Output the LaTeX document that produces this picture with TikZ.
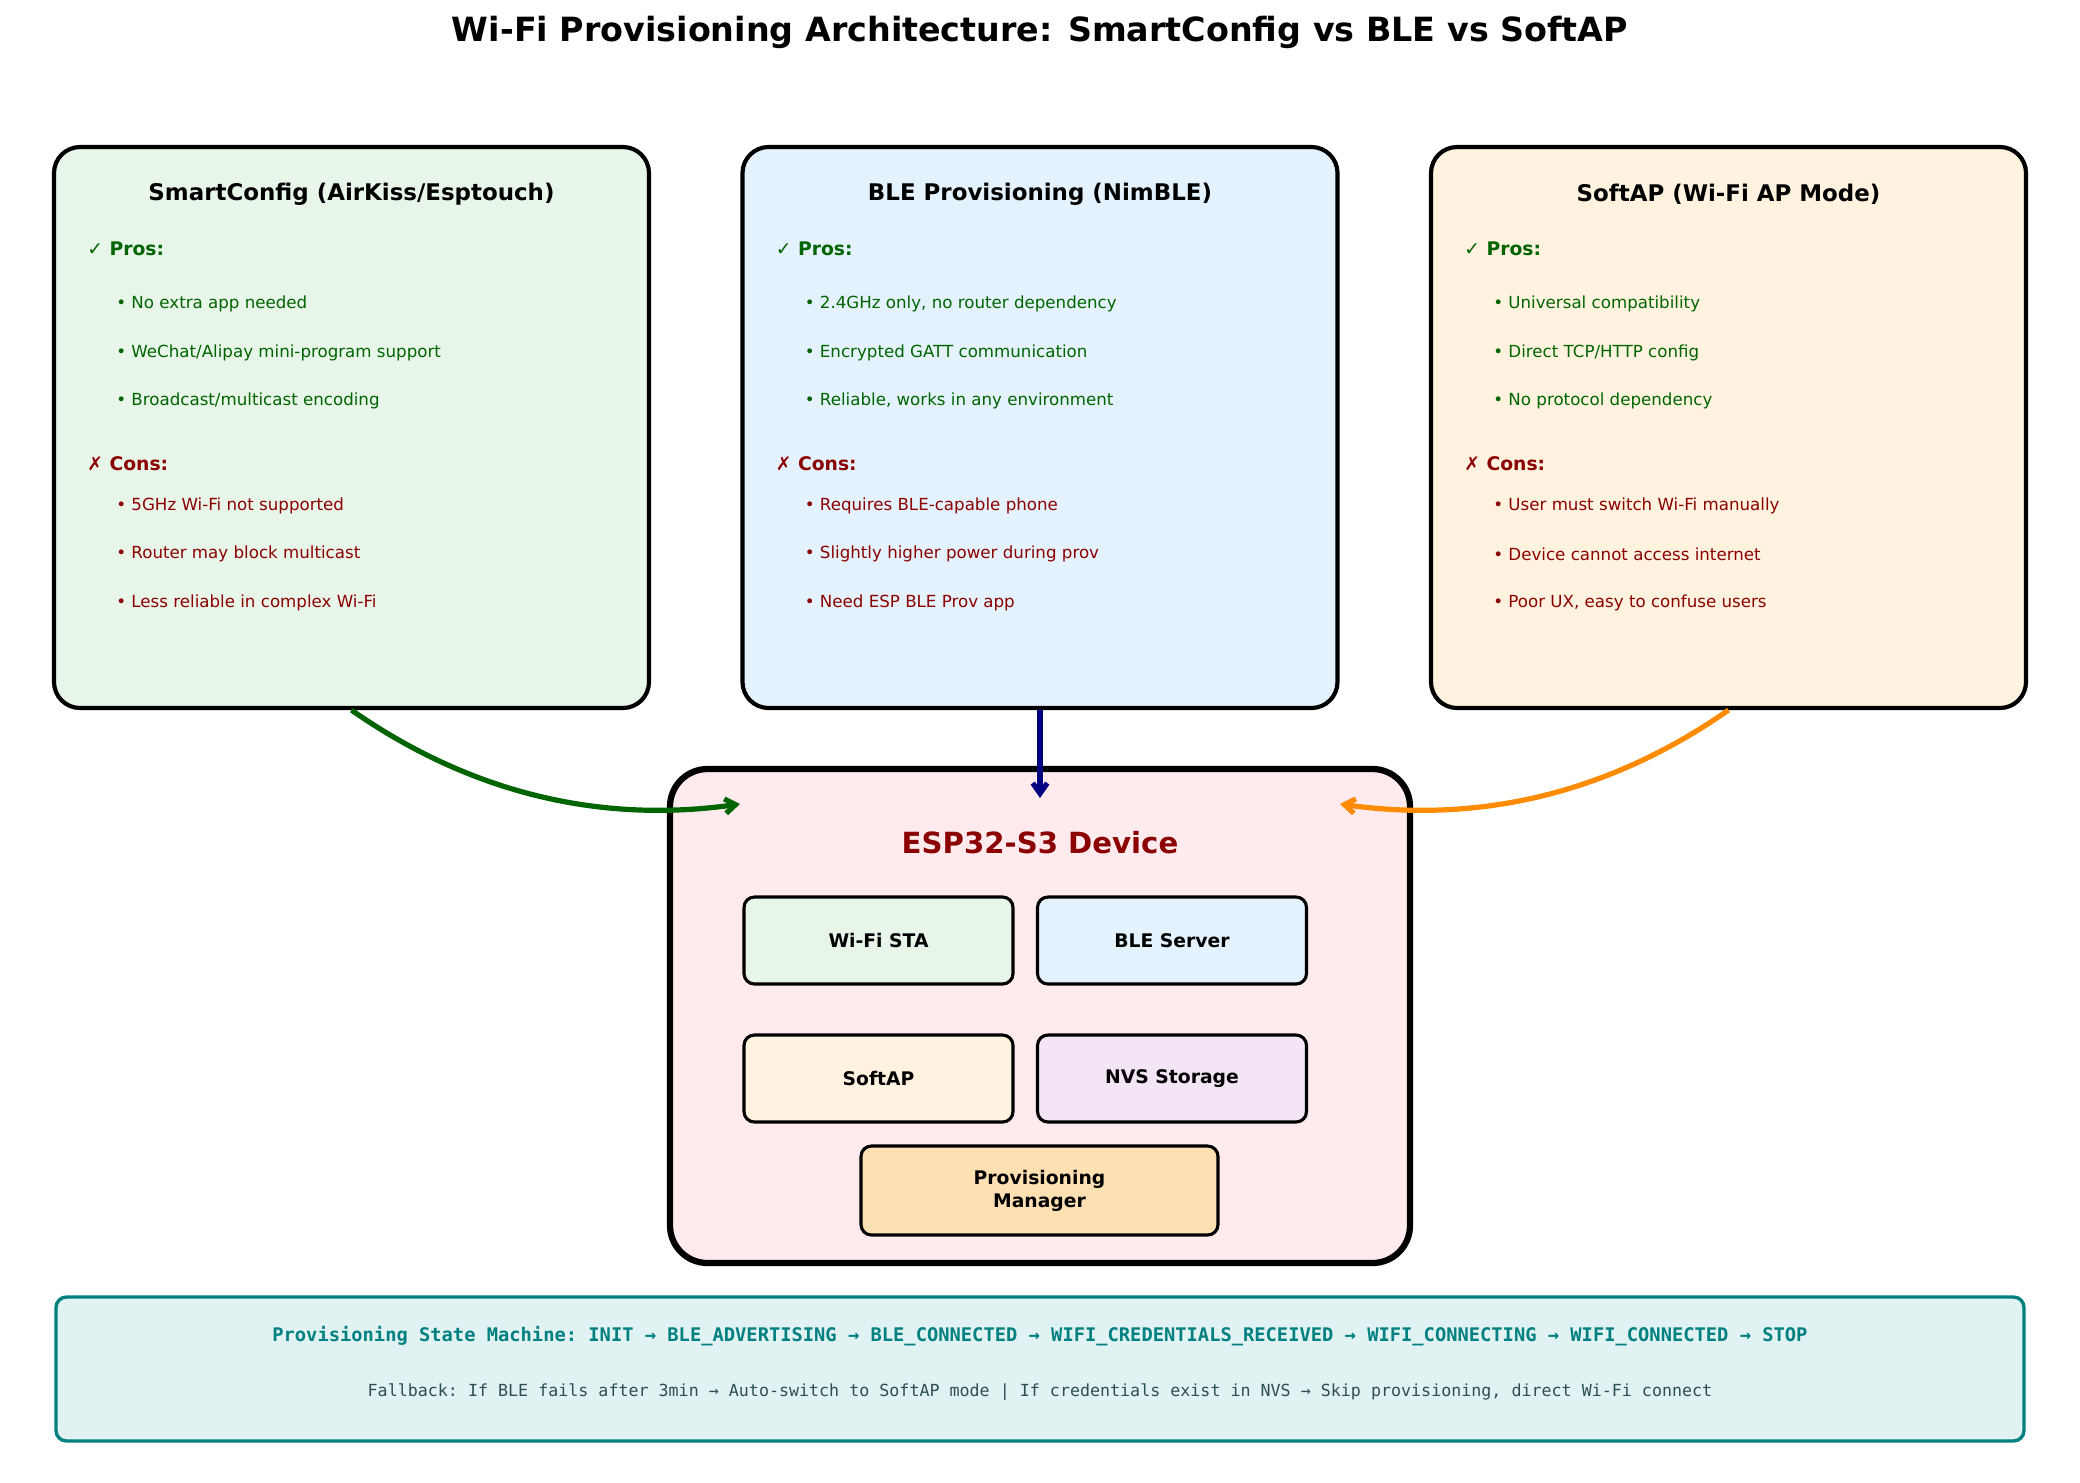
\documentclass[tikz,border=0pt]{standalone}
\usepackage{fontspec}
\setmainfont{DejaVu Sans}
\setmonofont{DejaVu Sans Mono}
\usetikzlibrary{arrows.meta,positioning,calc}
\definecolor{smartfill}{HTML}{E8F5E9}
\definecolor{blefill}{HTML}{E3F2FD}
\definecolor{apfill}{HTML}{FFF3E0}
\definecolor{devfill}{HTML}{FFEBEE}
\definecolor{nvsfill}{HTML}{F3E5F5}
\definecolor{mgrfill}{HTML}{FFE0B2}
\definecolor{fsmline}{HTML}{008080}
\definecolor{fsmfill}{HTML}{E0F2F1}
\definecolor{progreen}{HTML}{006400}
\definecolor{conred}{HTML}{8B0000}
\definecolor{blenavy}{HTML}{000080}
\definecolor{aporange}{HTML}{FF8C00}
\definecolor{slate}{HTML}{2F4F4F}
\newcommand{\pxu}{0.48pt}
\tikzset{
  every node/.style={inner sep=0pt, text=black},
  method/.style={draw=black, line width=2pt, rounded corners=12.5pt,
    minimum width=595*\pxu, minimum height=561*\pxu},
  mhead/.style={font=\fontsize{11}{13}\selectfont\bfseries},
  prohead/.style={font=\fontsize{9}{11}\selectfont\bfseries, text=progreen, anchor=west},
  conhead/.style={font=\fontsize{9}{11}\selectfont\bfseries, text=conred, anchor=west},
  proitem/.style={font=\fontsize{8}{10}\selectfont, text=progreen, anchor=west},
  conitem/.style={font=\fontsize{8}{10}\selectfont, text=conred, anchor=west},
  device/.style={draw=black, line width=3pt, rounded corners=18pt, fill=devfill,
    minimum width=740*\pxu, minimum height=494*\pxu},
  part/.style={draw=black, line width=1.5pt, rounded corners=5pt, align=center,
    minimum width=269*\pxu, minimum height=87*\pxu, font=\fontsize{9}{11}\selectfont\bfseries},
  flow/.style={-{Straight Barb[length=5pt, width=7pt]}, line width=2.5pt},
}
\newcommand{\proscons}[7]{% #1 box name, #2-#4 pros, #5-#7 cons
  \node[prohead] (#1pro) at ($(#1.north west)+(35,104)$) {✓ Pros:};
  \node[proitem] (#1p1) at ($(#1.north west)+(64,159)$) {• #2};
  \node[proitem] (#1p2) at ($(#1.north west)+(64,208)$) {• #3};
  \node[proitem] (#1p3) at ($(#1.north west)+(64,256)$) {• #4};
  \node[conhead] (#1con) at ($(#1.north west)+(35,319)$) {✗ Cons:};
  \node[conitem] (#1c1) at ($(#1.north west)+(64,361)$) {• #5};
  \node[conitem] (#1c2) at ($(#1.north west)+(64,409)$) {• #6};
  \node[conitem] (#1c3) at ($(#1.north west)+(64,458)$) {• #7};
}

\begin{document}
\begin{tikzpicture}[x=\pxu, y=-\pxu]
  \useasboundingbox (0,0) rectangle (2080,1482);
  \node[font=\fontsize{16}{19}\selectfont\bfseries] (title) at (1040,32)
    {Wi-Fi Provisioning Architecture: SmartConfig vs BLE vs SoftAP};

  % the three provisioning methods
  \node[method, fill=smartfill] (smart) at (351.5,427.5) {};
  \node[mhead] (smarthead) at ($(smart.north)+(0,49)$) {SmartConfig (AirKiss/Esptouch)};
  \proscons{smart}{No extra app needed}{WeChat/Alipay mini-program support}{Broadcast/multicast encoding}
    {5GHz Wi-Fi not supported}{Router may block multicast}{Less reliable in complex Wi-Fi}

  \node[method, fill=blefill] (ble) at (1040,427.5) {};
  \node[mhead] (blehead) at ($(ble.north)+(0,49)$) {BLE Provisioning (NimBLE)};
  \proscons{ble}{2.4GHz only, no router dependency}{Encrypted GATT communication}{Reliable, works in any environment}
    {Requires BLE-capable phone}{Slightly higher power during prov}{Need ESP BLE Prov app}

  \node[method, fill=apfill] (ap) at (1728.5,427.5) {};
  \node[mhead] (aphead) at ($(ap.north)+(0,49)$) {SoftAP (Wi-Fi AP Mode)};
  \proscons{ap}{Universal compatibility}{Direct TCP/HTTP config}{No protocol dependency}
    {User must switch Wi-Fi manually}{Device cannot access internet}{Poor UX, easy to confuse users}

  % device and its parts
  \node[device] (dev) at (1040,1016) {};
  \node[font=\fontsize{14}{17}\selectfont\bfseries, text=conred] (devhead) at (1040,843) {ESP32-S3 Device};
  \node[part, fill=smartfill] (sta) at (878.5,940.5) {Wi-Fi STA};
  \node[part, fill=blefill] (bles) at (1172,940.5) {BLE Server};
  \node[part, fill=apfill] (softap) at (878.5,1078.5) {SoftAP};
  \node[part, fill=nvsfill] (nvs) at (1172,1078.5) {NVS Storage};
  \node[part, fill=mgrfill, minimum width=357*\pxu, minimum height=89*\pxu] (mgr) at (1039.5,1190.5) {Provisioning\\Manager};

  \coordinate (inL) at (740,804);
  \coordinate (inM) at (1040,798);
  \coordinate (inR) at (1340,804);
  \draw[flow, draw=progreen] (smart.south) .. controls (469,792) and (598,824) .. (inL);
  \draw[flow, draw=blenavy] (ble.south) -- (inM);
  \draw[flow, draw=aporange] (ap.south) .. controls (1611,792) and (1482,824) .. (inR);

  % state machine strip
  \node[draw=fsmline, fill=fsmfill, line width=1.6pt, rounded corners=5pt,
    minimum width=1968*\pxu, minimum height=144*\pxu] (fsm) at (1040,1369) {};
  \node[font=\fontsize{9}{11}\selectfont\ttfamily\bfseries, text=fsmline] (fsmline1) at (1040,1336)
    {Provisioning State Machine: INIT → BLE\_ADVERTISING → BLE\_CONNECTED → WIFI\_CREDENTIALS\_RECEIVED → WIFI\_CONNECTING → WIFI\_CONNECTED → STOP};
  \node[font=\fontsize{8}{10}\selectfont\ttfamily, text=slate] (fsmline2) at (1040,1392)
    {Fallback: If BLE fails after 3min → Auto-switch to SoftAP mode | If credentials exist in NVS → Skip provisioning, direct Wi-Fi connect};
\end{tikzpicture}
\end{document}
